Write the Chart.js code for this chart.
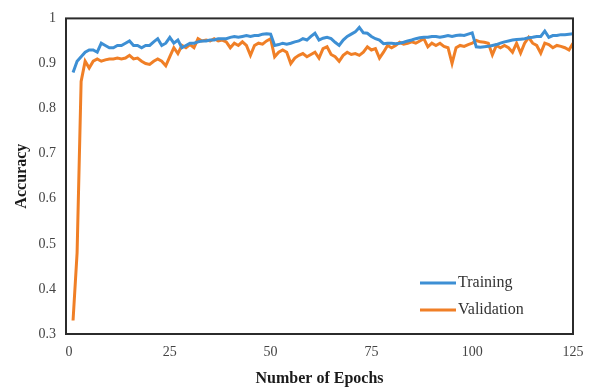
<!DOCTYPE html>
<html lang="en">
<head>
    <meta charset="UTF-8">
    <title>Accuracy vs Epochs</title>
    <script src="https://cdn.jsdelivr.net/npm/chart.js"></script>
    <style>
        body {
            margin: 0;
            padding: 0;
            background: #fff;
        }
        .chart-container {
            width: 595px;
            height: 389px;
        }
    </style>
</head>
<body>

<div class="chart-container">
    <canvas id="accChart"></canvas>
</div>

<script>
    // epochs 1..125
    const epochs = Array.from({ length: 125 }, (_, i) => i + 1);

    const training = [
        0.880, 0.905, 0.915, 0.925, 0.930, 0.930, 0.925, 0.945, 0.940, 0.935,
        0.935, 0.940, 0.940, 0.945, 0.950, 0.940, 0.940, 0.935, 0.940, 0.940,
        0.948, 0.955, 0.940, 0.945, 0.958, 0.945, 0.952, 0.935, 0.940, 0.945,
        0.945, 0.948, 0.950, 0.950, 0.952, 0.952, 0.955, 0.955, 0.955, 0.958,
        0.960, 0.958, 0.960, 0.962, 0.960, 0.962, 0.962, 0.965, 0.966, 0.965,
        0.940, 0.942, 0.945, 0.943, 0.945, 0.948, 0.950, 0.955, 0.952, 0.960,
        0.967, 0.952, 0.956, 0.958, 0.955, 0.947, 0.940, 0.952, 0.960, 0.965,
        0.970, 0.980, 0.968, 0.967, 0.960, 0.955, 0.952, 0.944, 0.945, 0.945,
        0.944, 0.945, 0.947, 0.950, 0.952, 0.955, 0.957, 0.958, 0.958, 0.960,
        0.960, 0.958, 0.960, 0.962, 0.960, 0.962, 0.963, 0.962, 0.965, 0.968,
        0.937, 0.936, 0.937, 0.938, 0.940, 0.942, 0.945, 0.948, 0.950, 0.952,
        0.953, 0.954, 0.955, 0.957, 0.958, 0.960, 0.960, 0.972, 0.958, 0.962,
        0.962, 0.964, 0.964, 0.965, 0.966
    ];

    const validation = [
        0.330, 0.480, 0.860, 0.905, 0.890, 0.905, 0.910, 0.905, 0.908, 0.910,
        0.910, 0.912, 0.910, 0.912, 0.918, 0.910, 0.912, 0.905, 0.900, 0.898,
        0.905, 0.910, 0.905, 0.895, 0.915, 0.935, 0.922, 0.940, 0.935, 0.942,
        0.935, 0.955, 0.950, 0.952, 0.950, 0.955, 0.950, 0.952, 0.948, 0.935,
        0.945, 0.940, 0.948, 0.940, 0.918, 0.940, 0.945, 0.943, 0.950, 0.955,
        0.915, 0.925, 0.930, 0.925, 0.900, 0.912, 0.918, 0.922, 0.915, 0.920,
        0.925, 0.912, 0.933, 0.937, 0.920, 0.915, 0.905, 0.918, 0.925, 0.920,
        0.922, 0.918, 0.925, 0.937, 0.930, 0.933, 0.912, 0.925, 0.940, 0.935,
        0.940, 0.947, 0.943, 0.945, 0.948, 0.945, 0.950, 0.955, 0.937, 0.945,
        0.940, 0.945, 0.938, 0.935, 0.900, 0.935, 0.940, 0.938, 0.942, 0.945,
        0.951, 0.948, 0.947, 0.945, 0.919, 0.940, 0.935, 0.940, 0.935, 0.925,
        0.945, 0.923, 0.945, 0.958, 0.945, 0.940, 0.923, 0.945, 0.942, 0.935,
        0.940, 0.938, 0.935, 0.930, 0.945
    ];

    const xTicks = [0, 25, 50, 75, 100, 125];
    const yTicks = [0.3, 0.4, 0.5, 0.6, 0.7, 0.8, 0.9, 1];

    const seriesNames = ['Training', 'Validation'];
    const seriesColors = ['#3D8FD4', '#F07F26'];

    const serif = '"Liberation Serif", "Times New Roman", serif';

    // box around plot + legend inside the plot area
    const boxAndLegend = {
        id: 'boxAndLegend',
        afterDraw(chart) {
            const ctx = chart.ctx;
            const a = chart.chartArea;
            ctx.save();
            ctx.strokeStyle = '#2b2b2b';
            ctx.lineWidth = 2;
            ctx.strokeRect(a.left, a.top, a.right - a.left, a.bottom - a.top);

            ctx.font = '16px ' + serif;
            ctx.textBaseline = 'middle';
            ctx.textAlign = 'left';
            chart.data.datasets.forEach((ds, i) => {
                const y = 283 + i * 27;
                ctx.strokeStyle = ds.borderColor;
                ctx.lineWidth = 3;
                ctx.beginPath();
                ctx.moveTo(420, y);
                ctx.lineTo(456, y);
                ctx.stroke();
                ctx.fillStyle = '#333';
                ctx.fillText(ds.label, 458, y);
            });
            ctx.restore();
        }
    };

    const ctx = document.getElementById('accChart').getContext('2d');
    const chart = new Chart(ctx, {
        type: 'line',
        data: {
            datasets: [training, validation].map((vals, i) => ({
                label: seriesNames[i],
                data: vals.map((v, j) => ({ x: epochs[j], y: v })),
                borderColor: seriesColors[i],
                backgroundColor: seriesColors[i],
                borderWidth: 3,
                pointRadius: 0,
                tension: 0,
                fill: false
            }))
        },
        options: {
            responsive: true,
            maintainAspectRatio: false,
            animation: false,
            layout: {
                padding: { top: 13, right: 22, left: 0, bottom: 0 }
            },
            plugins: {
                legend: { display: false },
                tooltip: { enabled: false }
            },
            scales: {
                x: {
                    type: 'linear',
                    min: -0.75,
                    max: 125,
                    afterBuildTicks: scale => {
                        scale.ticks = xTicks.map(v => ({ value: v }));
                    },
                    afterFit: scale => { scale.height = 55; },
                    grid: { display: false, drawTicks: false },
                    border: { display: false },
                    ticks: {
                        padding: 10,
                        color: '#444',
                        font: { family: serif, size: 14 }
                    },
                    title: {
                        display: true,
                        text: 'Number of Epochs',
                        color: '#1a1a1a',
                        padding: { top: 0, bottom: 1 },
                        font: { family: serif, size: 16, weight: 'bold' }
                    }
                },
                y: {
                    min: 0.3,
                    max: 1,
                    afterBuildTicks: scale => {
                        scale.ticks = yTicks.map(v => ({ value: v }));
                    },
                    afterFit: scale => { scale.width = 66; },
                    grid: { display: false, drawTicks: false },
                    border: { display: false },
                    ticks: {
                        padding: 10,
                        color: '#444',
                        font: { family: serif, size: 14 },
                        callback: v => String(v)
                    },
                    title: {
                        display: true,
                        text: 'Accuracy',
                        color: '#1a1a1a',
                        padding: { top: 12, bottom: 0 },
                        font: { family: serif, size: 16, weight: 'bold' }
                    }
                }
            }
        },
        plugins: [boxAndLegend]
    });
</script>

</body>
</html>
